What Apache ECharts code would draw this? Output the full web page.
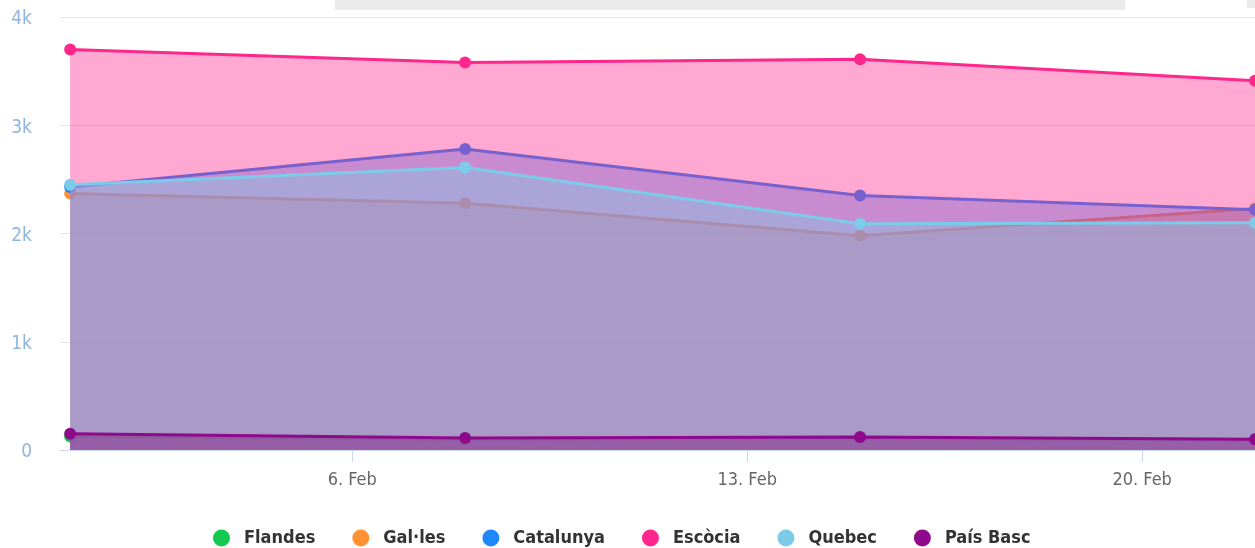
<!DOCTYPE html>
<html>
<head>
<meta charset="utf-8">
<script src="https://cdn.jsdelivr.net/npm/echarts@6/dist/echarts.min.js"></script>
<style>
  html, body { margin: 0; padding: 0; background: #fff; }
  #area-chart { width: 1255px; height: 548px; }
</style>
</head>
<body>
<div id="area-chart"></div>
<script>
(function () {
    'use strict';

    var DAY = 24 * 3600 * 1000;

    // weekly points
    var dates = [Date.UTC(2021, 1, 1), Date.UTC(2021, 1, 8), Date.UTC(2021, 1, 15), Date.UTC(2021, 1, 22)];
    var tickDates = [Date.UTC(2021, 1, 6), Date.UTC(2021, 1, 13), Date.UTC(2021, 1, 20)];
    var tickLabels = ['6. Feb', '13. Feb', '20. Feb'];
    var yTicks = [0, 1000, 2000, 3000, 4000];
    var yTickLabels = ['0', '1k', '2k', '3k', '4k'];

    var names = ['Flandes', 'Gal·les', 'Catalunya', 'Escòcia', 'Quebec', 'País Basc'];
    var colors = ['#13c94f', '#ff9232', '#1e88fb', '#ff268c', '#7ccbe8', '#8f0a8a'];

    var flandes = [125, 100, 110, 90];
    var galles = [2370, 2280, 1980, 2230];
    var catalunya = [2430, 2780, 2350, 2220];
    var escocia = [3700, 3580, 3610, 3410];
    var quebec = [2450, 2610, 2090, 2100];
    var paisBasc = [150, 110, 120, 100];

    var values = [flandes, galles, catalunya, escocia, quebec, paisBasc];

    var font = "'Liberation Sans Narrow', 'DejaVu Sans Condensed', sans-serif";

    var myChart = echarts.init(document.getElementById('area-chart'));

    // each series gets its own z so later fills cover earlier lines
    var series = names.map(function (name, i) {
        return {
            name: name,
            type: 'line',
            z: 2 + i,
            data: dates.map(function (d, j) { return [d, values[i][j]]; }),
            symbol: 'circle',
            symbolSize: 12,
            lineStyle: { width: 3, color: colors[i] },
            itemStyle: { color: colors[i] },
            areaStyle: { color: colors[i], opacity: 0.4 },
            clip: false
        };
    });

    var option = {
        animation: false,
        color: colors,
        grid: { left: 60, right: 0, top: 17, bottom: 98 },
        graphic: [
            { type: 'rect', shape: { x: 335, y: 0, width: 790, height: 10 }, style: { fill: '#ebebeb' }, z: 100 },
            { type: 'rect', shape: { x: 1247, y: 0, width: 8, height: 8 }, style: { fill: '#ebebeb' }, z: 100 },
            { type: 'text', left: 447, top: -12, style: { text: 'Read More', fill: '#3d8fe0', font: '15px ' + font }, z: 101 }
        ],
        legend: {
            left: 208,
            top: 524,
            icon: 'circle',
            itemWidth: 17,
            itemHeight: 17,
            itemGap: 37,
            textStyle: { color: '#333', fontSize: 18, fontWeight: 'bold', fontFamily: font, padding: [0, 0, 0, 9] },
            data: names
        },
        xAxis: {
            type: 'value',
            min: dates[0] - 0.18 * DAY,
            max: dates[dates.length - 1],
            splitLine: { show: false },
            axisLine: { lineStyle: { color: '#ccd6eb' } },
            axisTick: { customValues: tickDates, length: 12, lineStyle: { color: '#ccd6eb' } },
            axisLabel: {
                customValues: tickDates,
                color: '#666',
                fontSize: 18,
                fontFamily: font,
                margin: 21,
                formatter: function (v) { return tickLabels[tickDates.indexOf(v)]; }
            }
        },
        yAxis: {
            type: 'value',
            min: 0,
            max: 4000,
            interval: 1000,
            splitLine: { lineStyle: { color: '#e6e6e6' } },
            axisLine: { show: false },
            axisTick: { show: false },
            axisLabel: {
                margin: 28,
                formatter: function (v) { return '{v|' + yTickLabels[yTicks.indexOf(v)] + '}'; },
                rich: {
                    v: { color: '#8fb6df', fontSize: 19, fontFamily: font, padding: [5, 0, 0, 0] }
                }
            }
        },
        series: series
    };

    myChart.setOption(option);
})();
</script>
</body>
</html>
